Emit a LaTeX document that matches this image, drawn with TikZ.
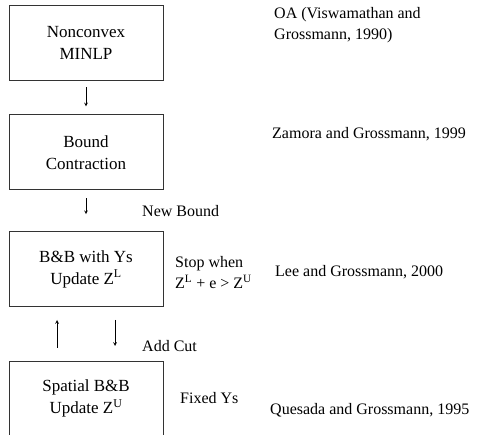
\documentclass[tikz,border=0pt]{standalone}
\usepackage{fontspec}
\setmainfont{Liberation Serif}
\usetikzlibrary{arrows, positioning}

\begin{document}
\begin{tikzpicture}[
    x=1pt, y=-1pt,
    node distance=34pt,
    box/.style={draw=black!80, rectangle, line width=0.8pt, minimum height=75pt, minimum width=154pt, align=center, inner sep=0pt, font=\fontsize{17}{22}\selectfont},
    note/.style={anchor=west, inner sep=0pt, align=left, font=\fontsize{16}{21}\selectfont},
    arrow/.style={->,>=stealth, line width=0.7pt}
]
\useasboundingbox (0,0) rectangle (479,435);
\clip (0,0) rectangle (479,434);
\node (nlp) [box] at (86,42.5) {Nonconvex\\MINLP};
\node (bc) [box, below=34pt of nlp] {Bound\\Contraction};
\node (bby) [box, below=41pt of bc] {B\&B with Ys\\Update Z\textsuperscript{L}};
\node (sbb) [box, below=54pt of bby] {Spatial B\&B\\Update Z\textsuperscript{U}};

\node (nb) [note] at (142,211) {New Bound};
\node (ac) [note] at (142,346) {Add Cut};
\node (stop) [note] at (175,273) {Stop when\\Z\textsuperscript{L} + e > Z\textsuperscript{U}};
\node (fix) [note] at (180,398) {Fixed Ys};

\node (oa) [note] at (274,25) {OA (Viswamathan and\\Grossmann, 1990)};
\node (zg) [note] at (272,134) {Zamora and Grossmann, 1999};
\node (lg) [note] at (275,272) {Lee and Grossmann, 2000};
\node (qg) [note] at (270,410) {Quesada and Grossmann, 1995};

\draw[arrow, shorten <=7pt, shorten >=8pt] (nlp) -- (bc);
\draw[arrow, shorten <=8pt, shorten >=17pt] (bc) -- (bby);
\draw[arrow, shorten <=13pt, shorten >=13pt] ([xshift=-29pt]sbb.north) -- ([xshift=-29pt]bby.south);
\draw[arrow, shorten <=13pt, shorten >=15pt] ([xshift=29pt]bby.south) -- ([xshift=29pt]sbb.north);
\end{tikzpicture}
\end{document}
